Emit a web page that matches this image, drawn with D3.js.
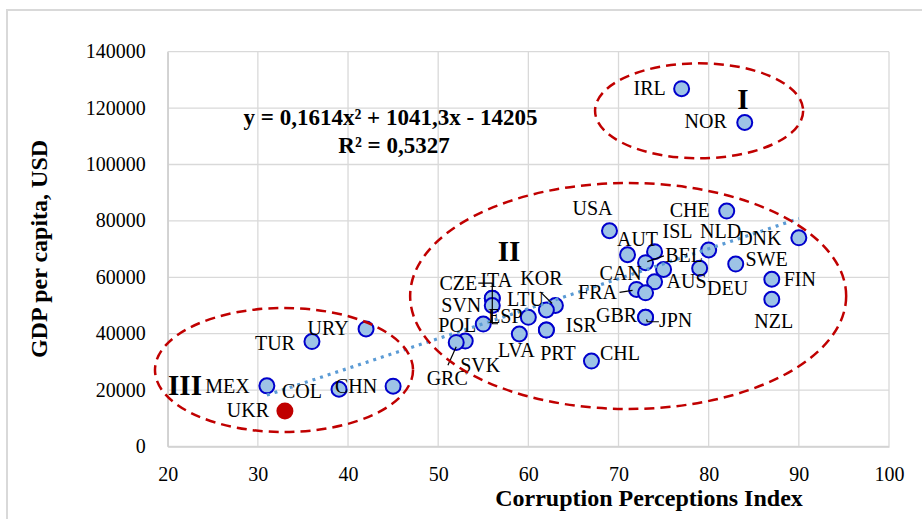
<!DOCTYPE html>
<html>
<head>
  <meta charset="UTF-8">
  <title>GDP per capita vs Corruption Perceptions Index</title>
  <style>
    body { margin: 0; background: #fff; }
    svg text { font-family: "Liberation Serif", "Times New Roman", serif; fill: #000; }
    .grid line { stroke: #d9d9d9; stroke-width: 1.3; }
    .tick-label { font-size: 20px; }
    .pt-label { font-size: 20px; }
    .axis-title { font-size: 24px; font-weight: bold; }
  </style>
</head>
<body>
  <svg id="chart" width="922" height="519"></svg>
  <script src="https://d3js.org/d3.v7.min.js"></script>
  <script>
    // data
    var countries = ["IRL","NOR","CHE","DNK","USA","AUT","ISL","BEL","","AUS","FRA","CAN","GBR","JPN",
                     "NLD","DEU","SWE","FIN","NZL","CHL","ISR","PRT","LVA","ESP","LTU","KOR",
                     "ITA","CZE","SVN","POL","SVK","GRC","URY","TUR","MEX","COL","CHN","UKR"];
    var cpi = [77,84,82,90,69,71,74,73,75,74,72,73,73,73,
               80,79,83,87,87,67,62,62,59,60,63,62,
               56,56,56,55,53,52,42,36,31,39,45,33];
    var gdp = [126900,114900,83500,74000,76500,68000,69100,65200,62800,58400,55700,54500,45800,45800,
               69700,63200,64700,59300,52200,30300,41300,41300,39900,45800,50000,48400,
               52600,52600,50000,43400,37400,36900,41700,37200,21500,20300,21400,12600];
    var highlight = "UKR";

    var xTicks = [20,30,40,50,60,70,80,90,100];
    var yTicks = [0,20000,40000,60000,80000,100000,120000,140000];

    // polynomial trend line coefficients (as printed on the chart)
    var trendCoef = [0.1614, 1041.3, -14205];
    var trendRange = [31, 90];

    // cluster ellipses in data units
    var clusters = [
      {name: "I",   cx: 78.94, cy: 119040, rx: 11.54, ry: 16840},
      {name: "II",  cx: 71.07, cy: 53370,  rx: 24.18, ry: 40070},
      {name: "III", cx: 32.9,  cy: 27130,  rx: 14.31, ry: 21990}
    ];

    var data = countries.map(function(c, i) { return {c: c, x: cpi[i], y: gdp[i]}; });

    // label placement: [centre dx, baseline dy] in px from the marker
    var labelPos = {
      IRL:[-32,6], NOR:[-39,6], USA:[-17,-16], AUT:[10,-9], CHE:[-37,6], ISL:[23,-14],
      NLD:[12,-12], DNK:[-39,7], BEL:[38.5,-1], SWE:[31,2], FIN:[28,7], NZL:[2,29],
      DEU:[28,27], AUS:[32,6], CAN:[-25,-13], FRA:[-39,10], GBR:[-29,4.4], JPN:[30,9.7],
      CHL:[28.5,-1], ISR:[35,1.7], PRT:[11.5,30], LVA:[-3,23], ESP:[-23,5.7], LTU:[-30,0],
      KOR:[-5,-25], ITA:[4,-11], CZE:[-34,-8.5], SVN:[-31,6.5], POL:[-26,7.7], SVK:[15,30.7],
      GRC:[-9,42.7], URY:[-38,6], TUR:[-37,8.3], MEX:[-39.5,7.3], COL:[-37,8.7], CHN:[-37,7],
      UKR:[-37,6]
    };
    // leader lines, px relative to the marker
    var leaders = {
      BEL: [[1.7,-1],[18.3,-6.7]],
      FRA: [[-17,3],[-4,1]],
      JPN: [[1,2],[1.7,4.4],[13.3,4.4]],
      LTU: [[-15,-13.6],[-3.3,-2]],
      CZE: [[-14,-15],[0,-15],[0,25.6],[5.7,25.6]],
      GRC: [[0,4.4],[-8.3,22.7]]
    };

    var svg = d3.select("#chart");

    var x = d3.scaleLinear().domain([20, 100]).range([167.7, 889]);
    var y = d3.scaleLinear().domain([0, 140000]).range([446.5, 51.7]);

    // outer chart border
    svg.append("rect")
      .attr("x", 7).attr("y", 10).attr("width", 940).attr("height", 540)
      .attr("fill", "none").attr("stroke", "#d9d9d9").attr("stroke-width", 2);

    // gridlines
    var grid = svg.append("g").attr("class", "grid");
    grid.selectAll(".gx").data(xTicks).enter().append("line")
      .attr("x1", function(d) { return x(d); }).attr("x2", function(d) { return x(d); })
      .attr("y1", y(0)).attr("y2", y(140000));
    grid.selectAll(".gy").data(yTicks).enter().append("line")
      .attr("x1", x(20)).attr("x2", x(100))
      .attr("y1", function(d) { return y(d); }).attr("y2", function(d) { return y(d); });

    // axes
    var xAxis = d3.axisBottom(x).tickValues(xTicks).tickSize(0).tickPadding(20);
    var gx = svg.append("g").attr("transform", "translate(0," + y(0) + ")").call(xAxis);
    gx.select(".domain").attr("stroke", "#d0d0d0").attr("stroke-width", 1.5);
    gx.selectAll("text").attr("class", "tick-label").attr("dy", "0").attr("y", 34);

    var yAxis = d3.axisLeft(y).tickValues(yTicks).tickSize(0).tickPadding(22).tickFormat(d3.format("d"));
    var gy = svg.append("g").attr("transform", "translate(" + x(20) + ",0)").call(yAxis);
    gy.select(".domain").attr("stroke", "#d0d0d0").attr("stroke-width", 1.5);
    gy.selectAll("text").attr("class", "tick-label").attr("dy", "0.3em");
    svg.selectAll("g").attr("font-family", null).attr("font-size", null);

    // markers
    svg.selectAll(".pt").data(data).enter().append("circle")
      .attr("cx", function(d) { return x(d.x); })
      .attr("cy", function(d) { return y(d.y); })
      .attr("r", function(d) { return d.c === highlight ? 8.5 : 7.5; })
      .attr("fill", function(d) { return d.c === highlight ? "#c00000" : "#9dc3e6"; })
      .attr("stroke", function(d) { return d.c === highlight ? "none" : "#0000cc"; })
      .attr("stroke-width", 2);

    // trend line
    var trendX = d3.range(trendRange[0], trendRange[1] + 0.01, 0.5);
    var line = d3.line()
      .x(function(v) { return x(v); })
      .y(function(v) { return y(trendCoef[0] * v * v + trendCoef[1] * v + trendCoef[2]); });
    svg.append("path").datum(trendX)
      .attr("d", line).attr("fill", "none")
      .attr("stroke", "#5b9bd5").attr("stroke-width", 3.2)
      .attr("stroke-dasharray", "3 5");

    // labels
    var labeled = data.filter(function(d) { return labelPos[d.c]; });
    svg.selectAll(".pt-label").data(labeled).enter().append("text")
      .attr("class", "pt-label")
      .attr("text-anchor", "middle")
      .attr("x", function(d) { return x(d.x) + labelPos[d.c][0]; })
      .attr("y", function(d) { return y(d.y) + labelPos[d.c][1]; })
      .text(function(d) { return d.c; });

    var leaderData = data.filter(function(d) { return leaders[d.c]; });
    svg.selectAll(".leader").data(leaderData).enter().append("path")
      .attr("fill", "none").attr("stroke", "#000").attr("stroke-width", 1.2)
      .attr("d", function(d) {
        var px = x(d.x), py = y(d.y);
        return d3.line()(leaders[d.c].map(function(p) { return [px + p[0], py + p[1]]; }));
      });

    // cluster ellipses
    svg.selectAll(".cluster").data(clusters).enter().append("ellipse")
      .attr("cx", function(d) { return x(d.cx); })
      .attr("cy", function(d) { return y(d.cy); })
      .attr("rx", function(d) { return x(d.cx + d.rx) - x(d.cx); })
      .attr("ry", function(d) { return y(d.cy - d.ry) - y(d.cy); })
      .attr("fill", "none").attr("stroke", "#c00000")
      .attr("stroke-width", 2.5).attr("stroke-dasharray", "10 6");

    // roman numerals
    var romanPos = {I: [743, 109], II: [509, 260.7], III: [185, 395]};
    svg.selectAll(".roman").data(clusters).enter().append("text")
      .attr("text-anchor", "middle")
      .attr("x", function(d) { return romanPos[d.name][0]; })
      .attr("y", function(d) { return romanPos[d.name][1]; })
      .style("font-size", "29px").style("font-weight", "bold")
      .text(function(d) { return d.name; });

    // equation
    svg.append("text").attr("x", 390.5).attr("y", 125).attr("text-anchor", "middle")
      .style("font-size", "23px").style("font-weight", "bold")
      .text("y = 0,1614x² + 1041,3x - 14205");
    svg.append("text").attr("x", 394).attr("y", 153).attr("text-anchor", "middle")
      .style("font-size", "23px").style("font-weight", "bold")
      .text("R² = 0,5327");

    // axis titles
    svg.append("text").attr("class", "axis-title")
      .attr("x", 649).attr("y", 506).attr("text-anchor", "middle")
      .text("Corruption Perceptions Index");
    svg.append("text").attr("class", "axis-title")
      .attr("transform", "translate(47,249) rotate(-90)")
      .attr("text-anchor", "middle")
      .text("GDP per capita, USD");
  </script>
</body>
</html>
